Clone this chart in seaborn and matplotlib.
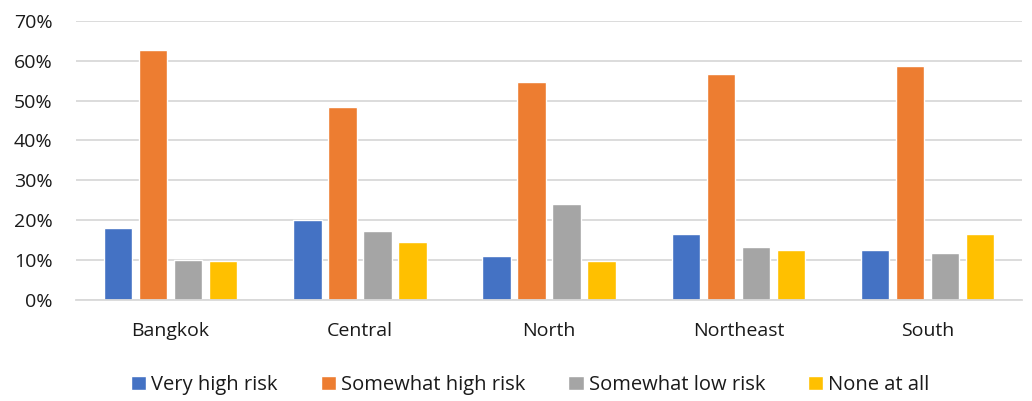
import matplotlib
matplotlib.use("Agg")
import matplotlib.pyplot as plt
import seaborn as sns
import pandas as pd
from matplotlib.ticker import PercentFormatter

regions = ["Bangkok", "Central", "North", "Northeast", "South"]
series = ["Very high risk", "Somewhat high risk", "Somewhat low risk", "None at all"]
very_high = [18.0, 20.0, 11.1, 16.5, 12.5]
somewhat_high = [62.7, 48.5, 54.6, 56.7, 58.7]
somewhat_low = [9.9, 17.4, 24.1, 13.2, 11.8]
none_at_all = [9.8, 14.5, 9.8, 12.5, 16.5]
colors = ["#4472C4", "#ED7D31", "#A5A5A5", "#FFC000"]

rows = []
for s, vals in zip(series, [very_high, somewhat_high, somewhat_low, none_at_all]):
    for r, v in zip(regions, vals):
        rows.append({"Region": r, "Risk": s, "Value": v})
df = pd.DataFrame(rows)

sns.set_theme(style="white")
plt.rcParams["font.family"] = ["Open Sans", "DejaVu Sans"]

fig = plt.figure(figsize=(10.32, 4.01), dpi=100)
ax = fig.add_axes([0.0736, 0.252, 0.917, 0.696])

sns.barplot(data=df, x="Region", y="Value", hue="Risk", order=regions,
            hue_order=series, palette=colors, width=0.74, gap=0.19,
            saturation=1, ax=ax, legend=True)

ax.set_ylim(0, 70)
ax.set_yticks(range(0, 71, 10))
ax.yaxis.set_major_formatter(PercentFormatter(decimals=0))
ax.yaxis.grid(True, color="#D9D9D9", linewidth=1.3)
ax.set_axisbelow(True)
for sp in ["top", "right", "left"]:
    ax.spines[sp].set_visible(False)
ax.spines["bottom"].set_color("#D9D9D9")
ax.spines["bottom"].set_linewidth(1.3)
ax.set_xlabel("")
ax.set_ylabel("")
ax.tick_params(axis="both", length=0, labelsize=14, colors="#1a1a1a")
ax.tick_params(axis="x", pad=16)
ax.tick_params(axis="y", pad=17)
ax.set_xlim(-0.5, 4.5)

handles, labels = ax.get_legend_handles_labels()
ax.legend(handles, labels, loc="center", bbox_to_anchor=(0.48, -0.305),
          ncol=4, frameon=False, fontsize=14.5, handlelength=0.75,
          handleheight=0.75, handletextpad=0.25, columnspacing=2.15,
          labelcolor="#1a1a1a")

fig.savefig("out.png", dpi=100)
